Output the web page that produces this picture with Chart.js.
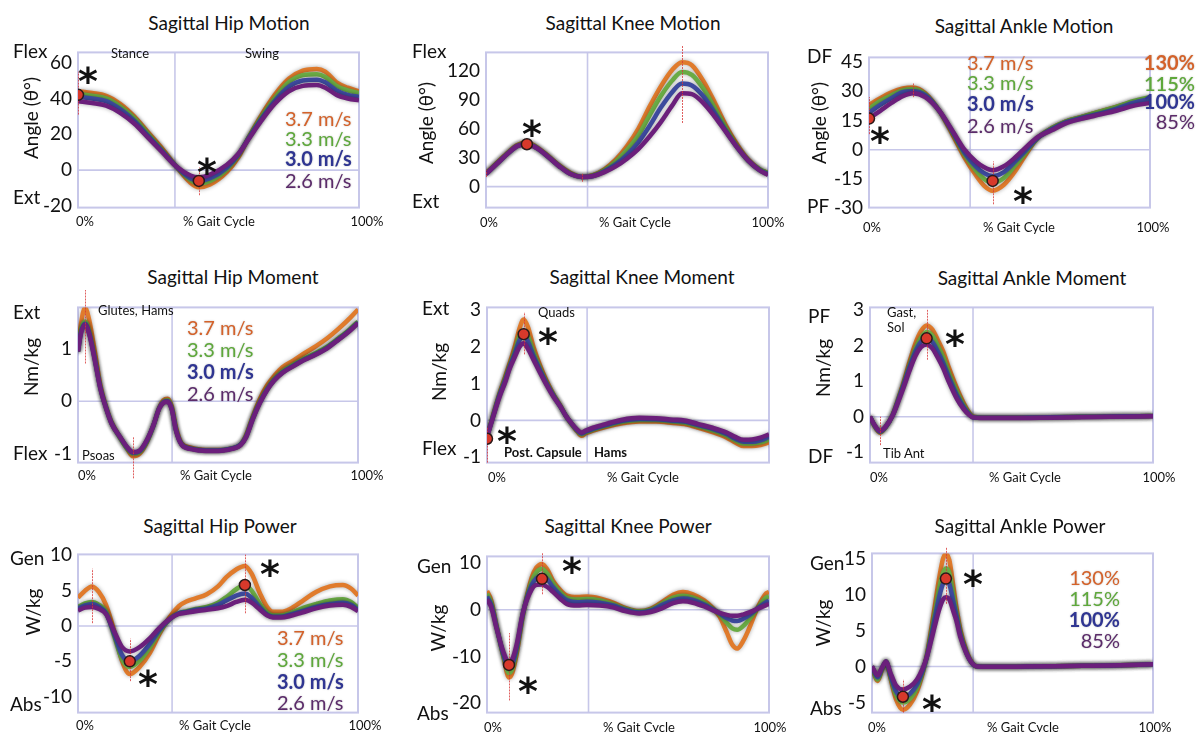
<!DOCTYPE html>
<html><head><meta charset="utf-8">
<script src="https://cdn.jsdelivr.net/npm/chart.js@4"></script>
<style>
body{margin:0;width:1200px;height:732px;background:#fff;position:relative;overflow:hidden;font-family:Lato,"Open Sans",sans-serif;}
canvas{position:absolute;}
.t{position:absolute;white-space:nowrap;line-height:1;}
</style></head><body>
<script>
// ---------- DATA ----------
const SERIES_SPEED = ['3.7 m/s','3.3 m/s','3.0 m/s','2.6 m/s'];
const SERIES_PCT = ['130%','115%','100%','85%'];

const hipMotionX  = [0,5,10,15,20,25,30,35,40,43,47,53,57,61,65,70,75,80,85,88,92,96,100];
const hipMotion37 = [44,43,41.5,37,30,21,12,2,-7,-9.5,-8,-1,7,19,30,42,51,55.5,56.5,55,49,46,44];
const hipMotion33 = [42.5,41.5,40,35.5,29,20,11,2,-5.5,-7.5,-6,0.5,8,19,29,40,49,53,53.5,52,47,44.5,43];
const hipMotion30 = [41,40,38.5,34,27.5,19,10.5,2,-4.5,-6,-4.5,1.5,8.5,18.5,28,38.5,46.5,50,50.5,49,44.5,42,41];
const hipMotion26 = [38.5,37.5,36,32,26,18,10,2,-3,-4,-2.5,3,9,18,27,37,44,47,47.5,46,42,40,39];
const hipMotionTicks = [-20,0,20,40,60];
const hipMotionDots = [[0,42],[43,-6]];
const hipMotionGuides = [[0,31,55],[43,-14,1.5]];

const kneeMotionX  = [0,4,8,11,14.5,18,22,26,30,34,38,42,46,50,54,58,62,66,69.5,73,77,81,85,89,93,97,100];
const kneeMotion37 = [14,25,36,43,46,41,32,22,14,10,12,18,28,42,60,83,104,121,129,126,110,88,64,44,28,18,14];
const kneeMotion33 = [13.5,24.5,35.5,42.5,45,40.5,31.5,21.5,13.5,10,11.5,17,26,38,53,74,94,110,119,116,102,82,61,42,27,18,14];
const kneeMotion30 = [13,24,35,42,44.5,40,31,21,13,10,11,16,23,33,46,63,82,98,107,105,94,77,58,41,27,17,13];
const kneeMotion26 = [13,24,35,42,44,40,31,21,13,10,11,15,21,29,39,52,67,84,97,96,87,73,57,41,27,17,12];
const kneeMotionTicks = [0,30,60,90,120];
const kneeMotionDots = [[14.5,44]];
const kneeMotionGuides = [[0,10,17],[14.5,44,49],[34,5,14],[69.5,66,146]];

const ankleMotionX  = [0,4,8,12,15.7,20,25,30,34,38,41,44,48,52,56,60,65,70,76,82,88,94,100];
const ankleMotion37 = [23,26.5,29.5,31.5,32,29,20,7,-4,-13,-18.5,-21,-18,-11,-2,6,11,14.5,17,19.5,22,24.5,26];
const ankleMotion33 = [21,25,28,30.5,31,28.5,20,8,-2.5,-10.5,-15,-17,-14.5,-8,-1,6,11,14.5,17,19.5,22,25,27];
const ankleMotion30 = [19,23,26.5,29.5,30,28,20,8.5,-1.5,-8.5,-12,-13.5,-11.5,-6,0,6,10.5,14,16.5,18.5,21,24,26];
const ankleMotion26 = [16,20,24,27.5,29,27,20,9,0,-6,-9,-10.5,-8.5,-4,1.5,6.5,10,13.5,16,18,20,22.5,24];
const ankleMotionTicks = [-30,-15,0,15,30,45];
const ankleMotionDots = [[0,16],[44,-16]];
const ankleMotionGuides = [[0,8,27],[15.7,27,34],[44,-28,-6]];

const hipMomentX  = [0,1,2.5,4,6,8,10,12,15,17.5,19.6,22,24.6,27,29,30.5,32,33.5,35,37,40,43.5,48,52,55,58,60,62.5,65,67.5,70,73,77,81,85,89,93,97,100];
const hipMoment37 = [0.95,1.45,1.78,1.55,0.95,0.3,-0.1,-0.4,-0.68,-0.9,-1.05,-1.0,-0.78,-0.45,-0.12,0.02,0.05,-0.1,-0.5,-0.8,-0.88,-0.92,-0.93,-0.93,-0.9,-0.83,-0.65,-0.28,0.05,0.3,0.48,0.65,0.78,0.92,1.05,1.2,1.38,1.58,1.75];
const hipMoment33 = [0.95,1.35,1.52,1.33,0.82,0.26,-0.12,-0.42,-0.7,-0.9,-1.0,-0.97,-0.77,-0.46,-0.13,-0.01,0.02,-0.13,-0.54,-0.82,-0.9,-0.93,-0.94,-0.93,-0.9,-0.83,-0.67,-0.3,0.0,0.24,0.42,0.57,0.7,0.82,0.92,1.04,1.2,1.37,1.52];
const hipMoment30 = [0.95,1.3,1.48,1.3,0.8,0.25,-0.12,-0.42,-0.68,-0.88,-0.98,-0.95,-0.75,-0.45,-0.13,-0.02,0.0,-0.15,-0.55,-0.82,-0.9,-0.93,-0.94,-0.93,-0.9,-0.83,-0.68,-0.32,-0.02,0.22,0.4,0.55,0.68,0.8,0.9,1.02,1.18,1.35,1.5];
const hipMoment26 = [0.95,1.28,1.46,1.28,0.78,0.24,-0.13,-0.43,-0.68,-0.87,-0.97,-0.94,-0.74,-0.45,-0.14,-0.03,-0.01,-0.16,-0.56,-0.83,-0.91,-0.94,-0.95,-0.94,-0.91,-0.84,-0.69,-0.33,-0.03,0.21,0.39,0.54,0.67,0.79,0.89,1.01,1.17,1.34,1.49];
const hipMomentTicks = [-1,0,1];
const hipMomentDots = [];
const hipMomentGuides = [[2.5,0.72,2.15],[19.6,-1.47,-0.67]];

const kneeMomentX  = [0,2,4.5,6.5,8,10,11.5,13,14.5,16.5,18.8,21,23.5,26,28,30,32,33.5,35,37.6,42,48,54,60,66,70,75,80,85,88,91,94,97,100];
const kneeMoment37 = [-0.45,0.1,0.75,1.2,1.55,2.05,2.5,2.75,2.55,2.0,1.5,1.1,0.72,0.4,0.12,-0.1,-0.3,-0.42,-0.35,-0.28,-0.18,-0.08,-0.03,-0.03,-0.07,-0.1,-0.2,-0.32,-0.47,-0.6,-0.7,-0.7,-0.67,-0.6];
const kneeMoment33 = [-0.45,0.08,0.72,1.15,1.48,1.92,2.3,2.45,2.3,1.85,1.42,1.05,0.7,0.39,0.12,-0.1,-0.28,-0.38,-0.32,-0.25,-0.15,-0.04,0.01,0.01,-0.03,-0.06,-0.16,-0.27,-0.41,-0.54,-0.63,-0.63,-0.6,-0.52];
const kneeMoment30 = [-0.45,0.07,0.7,1.1,1.45,1.85,2.18,2.3,2.15,1.75,1.37,1.02,0.68,0.38,0.12,-0.09,-0.27,-0.36,-0.3,-0.23,-0.13,-0.01,0.04,0.03,-0.01,-0.03,-0.13,-0.23,-0.37,-0.5,-0.58,-0.58,-0.54,-0.45];
const kneeMoment26 = [-0.45,0.05,0.65,1.05,1.4,1.75,2.0,2.1,1.95,1.65,1.3,0.98,0.65,0.38,0.12,-0.08,-0.25,-0.33,-0.28,-0.2,-0.1,0.02,0.07,0.06,0.02,0.0,-0.1,-0.2,-0.33,-0.45,-0.53,-0.52,-0.47,-0.38];
const kneeMomentTicks = [-1,0,1,2,3];
const kneeMomentDots = [[0,-0.5],[13,2.35]];
const kneeMomentGuides = [[0,-1.15,-0.2],[13,1.8,2.95]];

const ankleMomentX  = [0,1.5,3.5,5.5,8,10.6,12,14,16,18,20,22,24,25.8,28,30.7,33,35,36.4,40,50,60,70,80,90,100];
const ankleMoment37 = [0,-0.25,-0.45,-0.3,0.05,0.65,1.0,1.55,2.05,2.4,2.56,2.45,2.15,1.85,1.35,0.8,0.4,0.12,0.0,-0.02,-0.02,-0.02,-0.01,0,0.01,0.02];
const ankleMoment33 = [0,-0.24,-0.43,-0.29,0.04,0.62,0.95,1.45,1.9,2.22,2.38,2.28,1.98,1.68,1.2,0.7,0.33,0.09,-0.01,-0.03,-0.03,-0.02,-0.01,0,0.01,0.02];
const ankleMoment30 = [0,-0.23,-0.42,-0.29,0.04,0.6,0.92,1.4,1.82,2.1,2.2,2.1,1.82,1.52,1.08,0.6,0.28,0.07,-0.02,-0.03,-0.03,-0.02,-0.01,0,0.01,0.02];
const ankleMoment26 = [0,-0.22,-0.4,-0.28,0.03,0.55,0.85,1.3,1.7,1.95,2.03,1.92,1.65,1.37,0.95,0.5,0.22,0.05,-0.02,-0.04,-0.04,-0.03,-0.02,-0.01,0,0.01];
const ankleMomentTicks = [-1,0,1,2,3];
const ankleMomentDots = [[20,2.2]];
const ankleMomentGuides = [[3.5,-0.8,0],[20,1.6,3.0]];

const hipPowerX  = [0,2.5,5,7.5,10,13,15.6,18.5,22,25.7,29,32.8,36,38.9,42,46,50,53,56.5,59.6,62,65,67.5,69.6,72.5,75.7,80,85,90,94.6,97.5,100];
const hipPower37 = [4.0,5.0,5.6,4.8,3.0,-0.8,-4.8,-6.8,-5.8,-3.8,-1.2,1.3,2.8,3.5,3.9,4.5,5.6,6.9,8.0,8.5,7.4,4.6,2.7,2.0,2.0,2.4,3.5,4.8,5.6,5.8,5.3,4.3];
const hipPower33 = [2.7,3.2,3.4,3.0,2.1,-1.5,-4.6,-5.8,-4.9,-3.0,-0.9,1.0,1.8,2.1,2.4,2.7,3.3,4.1,5.2,5.8,5.0,3.1,1.9,1.5,1.5,1.8,2.5,3.1,3.6,3.8,3.4,2.6];
const hipPower30 = [2.5,2.9,3.1,2.7,1.8,-1.2,-4.0,-5.0,-4.2,-2.5,-0.6,1.0,1.8,2.0,2.3,2.5,3.0,3.6,4.3,4.6,4.0,2.6,1.6,1.3,1.3,1.6,2.1,2.7,3.1,3.3,3.0,2.3];
const hipPower26 = [2.2,2.6,2.7,2.4,1.7,-0.8,-2.9,-3.6,-3.0,-1.7,-0.3,1.0,1.7,1.9,2.1,2.3,2.5,2.8,3.4,3.7,3.3,2.3,1.5,1.2,1.2,1.4,1.9,2.5,2.9,3.0,2.7,2.1];
const hipPowerTicks = [-10,-5,0,5,10];
const hipPowerDots = [[18.5,-5],[59.6,5.8]];
const hipPowerGuides = [[5,0.4,8.1],[18.5,-7.8,-1.8],[59.6,1.8,10.1]];

const kneePowerX  = [0,1.5,3.4,5.8,7.8,9,10.5,12.8,15.8,17.5,19.5,21.5,23.4,26,28.4,32,35.5,40,44.7,49,54,58,62,66,69.5,73,77,80,82.5,85,87,88.7,91,93.3,96,99,100];
const kneePower37 = [4.0,2.0,-3.5,-10,-14.5,-13.5,-9.5,-1,6.8,9.0,9.8,8.5,6.2,4.2,3.0,2.7,2.8,2.4,1.5,0.4,-0.3,0.2,1.6,3.2,3.8,3.3,2.0,0.4,-1.5,-4.8,-7.5,-8.3,-6.5,-3.5,0.5,3.5,3.8];
const kneePower33 = [3.4,1.5,-3.6,-9.8,-13.5,-12.6,-8.8,-0.8,6.0,8.0,8.7,7.6,5.6,3.7,2.5,2.2,2.3,2.0,1.2,0.2,-0.4,0.0,1.3,2.6,3.0,2.6,1.5,0.2,-1.0,-2.8,-4.0,-4.3,-3.4,-1.8,0.4,2.6,2.9];
const kneePower30 = [2.8,1.0,-3.8,-9.5,-12.5,-11.7,-8.2,-0.6,5.2,6.7,7.3,6.4,4.8,3.1,2.0,1.6,1.7,1.5,0.9,0.0,-0.6,-0.2,1.0,2.0,2.4,2.1,1.1,0.1,-0.8,-1.8,-2.3,-2.4,-1.9,-1.0,0.3,1.6,1.9];
const kneePower26 = [2.2,0.5,-4.0,-9.0,-11.2,-10.5,-7.5,-0.5,4.3,5.3,5.4,4.8,3.8,2.3,1.2,0.9,1.0,0.9,0.5,-0.3,-0.8,-0.5,0.3,1.4,1.8,1.5,0.7,-0.1,-0.7,-1.1,-1.3,-1.3,-1.0,-0.5,0.2,1.0,1.2];
const kneePowerTicks = [-20,-10,0,10];
const kneePowerDots = [[7.8,-11.8],[19.5,6.6]];
const kneePowerGuides = [[7.8,-19.4,-5],[19.5,3.3,12.2]];

const anklePowerX  = [0,2,3.5,5,6.5,8.5,11,13.5,16,18,19.5,21,22.4,24,25.3,26.3,27.5,29,30,31.5,33.6,35.5,37.4,45,55,65,75,85,95,100];
const anklePower37 = [0,-2.0,-0.5,0.7,-1.5,-4.5,-6.0,-5.3,-3.5,-1.0,1.5,5.0,8.5,12.5,15.0,15.6,14.8,11.0,8.3,5.0,2.2,0.6,0.0,-0.05,0,0.05,0.1,0.15,0.25,0.3];
const anklePower33 = [0,-1.8,-0.4,0.7,-1.3,-3.9,-5.0,-4.5,-3.0,-0.8,1.4,4.5,7.5,11.0,13.0,13.6,13.0,9.8,7.6,4.6,2.0,0.5,0,-0.05,0,0.05,0.1,0.15,0.25,0.3];
const anklePower30 = [0,-1.5,-0.3,0.7,-1.1,-3.4,-4.3,-3.8,-2.5,-0.6,1.3,4.0,6.8,9.8,11.5,12.0,11.5,8.9,7.1,4.3,1.9,0.5,0,-0.05,0,0.05,0.1,0.15,0.25,0.3];
const anklePower26 = [0,-1.2,-0.2,0.7,-0.8,-2.6,-3.2,-2.8,-1.8,-0.3,1.3,3.5,5.7,8.0,9.3,9.6,9.3,7.6,6.4,4.0,1.8,0.5,0,-0.05,0,0.05,0.1,0.15,0.25,0.3];
const anklePowerTicks = [-5,0,5,10,15];
const anklePowerDots = [[11,-4.2],[26.3,12.2]];
const anklePowerGuides = [[11,-6.4,-1.8],[26.3,8.7,16.5]];

// ---------- STYLE / LAYOUT ----------
const LINE_COLORS = ['#e07b2c','#6aab45','#3d4a9e','#6b1f7b'];
const TEXT_COLORS = ['#d4622a','#5ea83b','#2f3592','#5b2b6a'];
const FONT = 'Lato';
Chart.defaults.font.family = FONT;

const panels = [
 {x:hipMotionX, s:[hipMotion37,hipMotion33,hipMotion30,hipMotion26], box:[78,47,359,213], yr:[-20.9,65.7], ticks:hipMotionTicks, div:34.5, dots:hipMotionDots, guides:hipMotionGuides},
 {x:kneeMotionX, s:[kneeMotion37,kneeMotion33,kneeMotion30,kneeMotion26], box:[486,47,768,213], yr:[-21.8,139.3], ticks:kneeMotionTicks, div:36, dots:kneeMotionDots, guides:kneeMotionGuides},
 {x:ankleMotionX, s:[ankleMotion37,ankleMotion33,ankleMotion30,ankleMotion26], box:[869,52,1150,213], yr:[-29.7,47.4], ticks:ankleMotionTicks, div:36, dots:ankleMotionDots, guides:ankleMotionGuides},
 {x:hipMomentX, s:[hipMoment37,hipMoment33,hipMoment30,hipMoment26], box:[78,302,358,468], yr:[-1.17,1.79], ticks:hipMomentTicks, div:33.6, dots:hipMomentDots, guides:hipMomentGuides},
 {x:kneeMomentX, s:[kneeMoment37,kneeMoment33,kneeMoment30,kneeMoment26], box:[487,302,769,468], yr:[-1.15,3.08], ticks:kneeMomentTicks, div:35.5, dots:kneeMomentDots, guides:kneeMomentGuides},
 {x:ankleMomentX, s:[ankleMoment37,ankleMoment33,ankleMoment30,ankleMoment26], box:[870,302,1153,468], yr:[-1.29,3.07], ticks:ankleMomentTicks, div:36.4, dots:ankleMomentDots, guides:ankleMomentGuides},
 {x:hipPowerX, s:[hipPower37,hipPower33,hipPower30,hipPower26], box:[78,549,358,718], yr:[-12.25,10.13], ticks:hipPowerTicks, div:33.6, dots:hipPowerDots, guides:hipPowerGuides},
 {x:kneePowerX, s:[kneePower37,kneePower33,kneePower30,kneePower26], box:[487,551,769,718], yr:[-22,11.4], ticks:kneePowerTicks, div:36, dots:kneePowerDots, guides:kneePowerGuides},
 {x:anklePowerX, s:[anklePower37,anklePower33,anklePower30,anklePower26], box:[872,548,1153,718], yr:[-6.4,15.7], ticks:anklePowerTicks, div:36, dots:anklePowerDots, guides:anklePowerGuides},
];

const PADL = 80, PAD = 12;

function makePlugin(p){
  return {
    id:'frame',
    beforeDatasetsDraw(c){
      const {ctx, chartArea:a, scales:{x,y}} = c;
      ctx.save();
      ctx.strokeStyle = 'rgba(196,196,232,0.95)';
      ctx.lineWidth = 2;
      ctx.strokeRect(a.left, a.top, a.right-a.left, a.bottom-a.top);
      ctx.lineWidth = 1.6;
      const y0 = y.getPixelForValue(0);
      ctx.beginPath(); ctx.moveTo(a.left,y0); ctx.lineTo(a.right,y0); ctx.stroke();
      const xd = x.getPixelForValue(p.div);
      ctx.beginPath(); ctx.moveTo(xd,a.top); ctx.lineTo(xd,a.bottom); ctx.stroke();
      ctx.restore();
    },
    beforeDatasetDraw(c,args){
      const ctx = c.ctx;
      if(args.index < 4){
        ctx.save();
        ctx.shadowColor = 'rgba(0,0,0,0.35)';
        ctx.shadowBlur = 4;
      } else {
        const {x,y} = c.scales;
        ctx.save();
        ctx.strokeStyle = 'rgba(215,55,55,0.8)';
        ctx.lineWidth = 1;
        ctx.setLineDash([2,1]);
        p.guides.forEach(g=>{
          const gx = Math.round(x.getPixelForValue(g[0]))+0.5;
          ctx.beginPath(); ctx.moveTo(gx,y.getPixelForValue(g[1])); ctx.lineTo(gx,y.getPixelForValue(g[2])); ctx.stroke();
        });
        ctx.restore();
      }
    },
    afterDatasetDraw(c,args){ if(args.index < 4) c.ctx.restore(); }
  };
}

panels.forEach(p=>{
  const [l,t,r,b] = p.box;
  const cv = document.createElement('canvas');
  const W = r-l+PADL+PAD, H = b-t+2*PAD;
  cv.width = W; cv.height = H;
  cv.style.left = (l-PADL)+'px'; cv.style.top = (t-PAD)+'px';
  document.body.appendChild(cv);
  const datasets = p.s.map((arr,i)=>({
    data: p.x.map((xx,k)=>({x:xx,y:arr[k]})),
    borderColor: LINE_COLORS[i], borderWidth: 4.5, pointRadius: 0,
    cubicInterpolationMode: 'monotone', fill:false, order: 4-i
  }));
  datasets.push({
    data: p.dots.map(d=>({x:d[0],y:d[1]})), showLine:false, order:-1,
    pointRadius:5.5, pointBackgroundColor:'#d8392b', pointBorderColor:'#2a1a1a', pointBorderWidth:1.5
  });
  new Chart(cv,{
    type:'line',
    data:{datasets},
    options:{
      responsive:false, animation:false, events:[],
      layout:{padding:{left:0,top:PAD,right:PAD,bottom:PAD}},
      plugins:{legend:{display:false}, tooltip:{enabled:false}},
      scales:{
        x:{type:'linear', min:0, max:100, display:false},
        y:{type:'linear', min:p.yr[0], max:p.yr[1],
           afterBuildTicks:s=>{ s.ticks = p.ticks.map(v=>({value:v})); },
           afterFit:s=>{ s.width = PADL; },
           ticks:{font:{size:19,family:FONT}, color:'#111', padding:6, autoSkip:false},
           grid:{display:false, drawTicks:false}, border:{display:false}}
      }
    },
    plugins:[makePlugin(p)]
  });
});

// ---------- TEXT ----------
function T(x,y,str,o={}){
  const d = document.createElement('div');
  d.className = 't'; d.textContent = str;
  const size = o.size||19;
  d.style.fontSize = size+'px';
  d.style.left = x+'px'; d.style.top = (y+(o.dy||0))+'px';
  d.style.color = o.color||'#111';
  if(o.weight) d.style.fontWeight = o.weight;
  if(o.font) d.style.fontFamily = o.font;
  if(o.shadow) d.style.textShadow = '0 0 2px rgba(0,0,0,0.25)';
  const ax = o.align==='l' ? '0' : o.align==='r' ? '-100%' : '-50%';
  d.style.transform = `translate(${ax},-50%)` + (o.rot ? ' rotate(-90deg)' : '');
  document.body.appendChild(d);
}
// titles
[[229,22,'Sagittal Hip Motion'],[633,22,'Sagittal Knee Motion'],[1024,25,'Sagittal Ankle Motion'],
 [233,276,'Sagittal Hip Moment'],[642,276,'Sagittal Knee Moment'],[1032,277,'Sagittal Ankle Moment'],
 [220,525,'Sagittal Hip Power'],[628,525,'Sagittal Knee Power'],[1020,525,'Sagittal Ankle Power']]
 .forEach(a=>T(a[0],a[1],a[2],{size:19}));
// side labels
[[13,50,'Flex'],[13,196,'Ext'],[412,50,'Flex'],[412,200,'Ext'],[807,55,'DF'],[807,205,'PF'],
 [13,311,'Ext'],[13,452,'Flex'],[422,307,'Ext'],[422,447,'Flex'],[808,315,'PF'],[808,455,'DF'],
 [10,557,'Gen'],[10,703,'Abs'],[417,565,'Gen'],[417,712,'Abs'],[810,562,'Gen'],[810,707,'Abs']]
 .forEach(a=>T(a[0],a[1],a[2],{size:19,align:'l'}));
// axis titles
[[30,118,'Angle (θ°)'],[425,123,'Angle (θ°)'],[818,123,'Angle (θ°)'],
 [30,367,'Nm/kg'],[438,372,'Nm/kg'],[822,368,'Nm/kg'],
 [32,612,'W/kg'],[437,628,'W/kg'],[822,623,'W/kg']]
 .forEach(a=>T(a[0],a[1],a[2],{size:19,rot:true}));
// x labels
[[85,221,'0%'],[219,221,'% Gait Cycle'],[367,221,'100%'],
 [489,222,'0%'],[635,222,'% Gait Cycle'],[768,222,'100%'],
 [872,227,'0%'],[1019,227,'% Gait Cycle'],[1153,227,'100%'],
 [87,475,'0%'],[216,475,'% Gait Cycle'],[367,475,'100%'],
 [497,477,'0%'],[643,477,'% Gait Cycle'],
 [879,477,'0%'],[1025,477,'% Gait Cycle'],[1159,477,'100%'],
 [85,725,'0%'],[215,725,'% Gait Cycle'],[365,725,'100%'],
 [493,727,'0%'],[639,727,'% Gait Cycle'],[770,727,'100%'],
 [877,727,'0%'],[1023,727,'% Gait Cycle'],[1155,727,'100%']]
 .forEach(a=>T(a[0],a[1],a[2],{size:13}));
// annotations
T(130,53,'Stance',{size:13}); T(262,53,'Swing',{size:13});
T(98,310,'Glutes, Hams',{size:13,align:'l'}); T(82,455,'Psoas',{size:13,align:'l'});
T(538,312,'Quads',{size:13,align:'l'});
T(504,452,'Post. Capsule',{size:13,align:'l',weight:700}); T(594,452,'Hams',{size:13,align:'l',weight:700});
T(887,312,'Gast,',{size:13,align:'l'}); T(887,327,'Sol',{size:13,align:'l'}); T(883,453,'Tib Ant',{size:13,align:'l'});
// legends (speed)
const SPEED_W = [400,400,700,400];
[[285,[118,138,158,180]],[967,[62,82,103,125]],[187,[327,349,371,393]],[277,[637,659,681,702]]]
 .forEach(([lx,ys])=>SERIES_SPEED.forEach((s,i)=>T(lx,ys[i],s,{size:20,align:'l',color:TEXT_COLORS[i],weight:SPEED_W[i],shadow:true})));
// legends (percent)
[[1195,[62,83,101,121],[700,600,700,400]],[1120,[577,598,619,640],[400,400,700,400]]]
 .forEach(([rx,ys,w])=>SERIES_PCT.forEach((s,i)=>T(rx,ys[i],s,{size:20,align:'r',color:TEXT_COLORS[i],weight:w[i],shadow:true})));
// asterisks
[[88,72],[207,163],[532,125],[880,132],[1023,192],[548,333],[507,432],[955,335],[270,565],[148,675],[572,562],[528,682],[973,575],[932,700]]
 .forEach(a=>T(a[0],a[1],'*',{size:38,weight:700,font:'DejaVu Sans',dy:9}));
</script>
</body></html>
